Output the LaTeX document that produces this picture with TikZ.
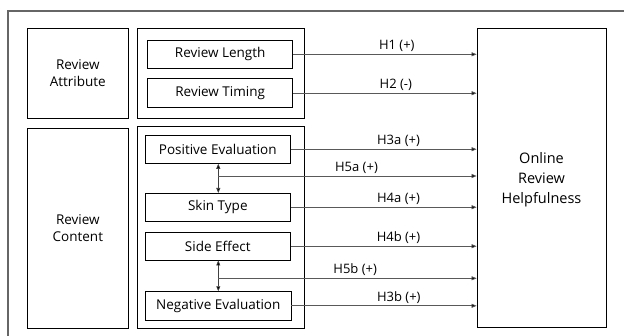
\documentclass[tikz,border=0pt]{standalone}
\usepackage{fontspec}
\setmainfont{Open Sans}
\usetikzlibrary{arrows.meta}
\begin{document}
\begin{tikzpicture}[x=1pt,y=-1pt,
  box/.style={draw=black, line width=0.8pt, inner sep=0pt, font=\fontsize{13.5}{17.6}\selectfont},
  conn/.style={draw=black!65, line width=0.7pt, -{Triangle[length=5pt,width=4pt,fill=black]}},
  dbl/.style={draw=black!75, line width=0.7pt, {Triangle[length=5pt,width=4pt,fill=black]}-{Triangle[length=5pt,width=4pt,fill=black]}},
  lbl/.style={font=\fontsize{13}{15}\selectfont, inner sep=1pt, above=1pt}]
\useasboundingbox (0,0) rectangle (624,335);
\fill[white] (0,0) rectangle (624,335);
\draw[black!60, line width=1.6pt] (8,340) -- (8,11) -- (630,11);
% left boxes
\node[box, minimum width=100.3pt, minimum height=90pt, align=center] (attr) at (77.85,73.3) {Review\\Attribute};
\node[box, minimum width=167.3pt, minimum height=90pt] (attrC) at (220.65,73.3) {};
\node[box, minimum width=100.3pt, minimum height=200pt, align=center] (cont) at (77.85,228.3) {Review\\Content};
\node[box, minimum width=167.3pt, minimum height=201.6pt] (contC) at (220.65,227.5) {};
% inner boxes
\node[box, minimum width=145pt, minimum height=28pt] (len) at (220.2,54.3) {Review Length};
\node[box, minimum width=145pt, minimum height=29pt] (tim) at (220.2,93.2) {Review Timing};
\node[box, minimum width=145pt, minimum height=28.3pt] (pos) at (217.8,149.2) {Positive Evaluation};
\node[box, minimum width=145pt, minimum height=27.7pt] (skin) at (217.8,207.2) {Skin Type};
\node[box, minimum width=145pt, minimum height=27.7pt] (side) at (217.8,246.2) {Side Effect};
\node[box, minimum width=145.3pt, minimum height=28.3pt] (neg) at (218.3,305.8) {Negative Evaluation};
% outcome
\node[box, minimum width=129pt, minimum height=299.4pt] (help) at (541.5,178) {};
\node[font=\fontsize{14.5}{20}\selectfont, align=center, inner sep=0pt] (helpt) at (541.5,180) {Online\\Review\\Helpfulness};
% coordinates
\coordinate (c5a) at (218.3,176);
\coordinate (c5b) at (218.3,278.3);
% connectors
\draw[conn] (len.east) -- (help.west |- len.east) node[lbl, pos=0.565] {H1 (+)};
\draw[conn] (tim.east) -- (help.west |- tim.east) node[lbl, pos=0.56] {H2 (-)};
\draw[conn] (pos.east) -- (help.west |- pos.east) node[lbl, pos=0.58] {H3a (+)};
\draw[dbl] (pos.south -| c5a) -- (skin.north -| c5a);
\draw[conn] (c5a) -- (help.west |- c5a) node[lbl, pos=0.535] {H5a (+)};
\draw[conn] (skin.east) -- (help.west |- skin.east) node[lbl, pos=0.58] {H4a (+)};
\draw[conn] (side.east) -- (help.west |- side.east) node[lbl, pos=0.58] {H4b (+)};
\draw[dbl] (side.south -| c5b) -- (neg.north -| c5b);
\draw[conn] (c5b) -- (help.west |- c5b) node[lbl, pos=0.53] {H5b (+)};
\draw[conn] (neg.east) -- (help.west |- neg.east) node[lbl, pos=0.58] {H3b (+)};
\end{tikzpicture}
\end{document}
